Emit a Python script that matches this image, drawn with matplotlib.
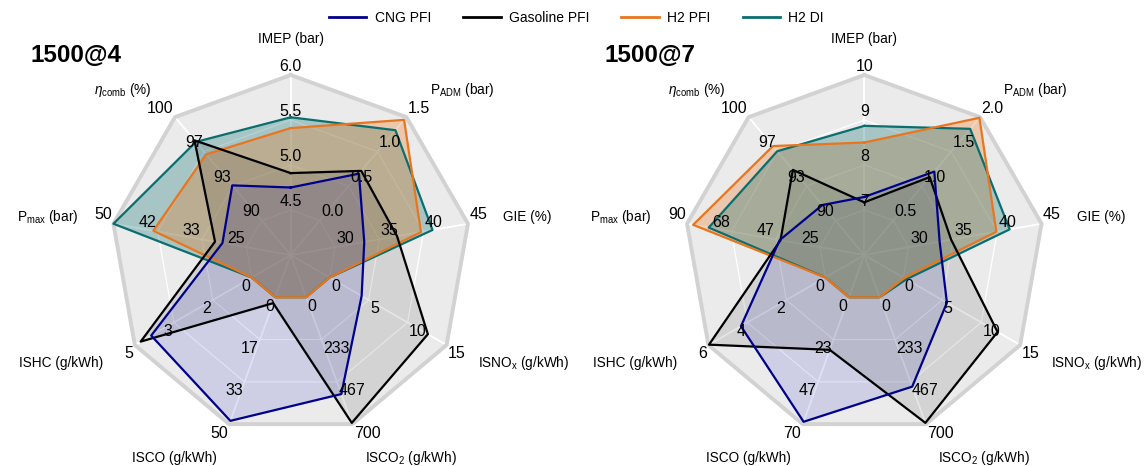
import numpy as np
import matplotlib
matplotlib.use('Agg')
import matplotlib.pyplot as plt
from matplotlib.lines import Line2D

plt.rcParams['font.family'] = ['Liberation Sans', 'DejaVu Sans']
plt.rcParams['mathtext.fontset'] = 'custom'
plt.rcParams['mathtext.rm'] = 'Liberation Sans'
plt.rcParams['mathtext.it'] = 'Liberation Sans:italic'
plt.rcParams['mathtext.default'] = 'regular'

# ---------------- data ----------------
variables = ['IMEP (bar)', 'P$_{ADM}$ (bar)', 'GIE (%)', 'ISNO$_x$ (g/kWh)',
             'ISCO$_2$ (g/kWh)', 'ISCO (g/kWh)', 'ISHC (g/kWh)',
             'P$_{max}$ (bar)', '$\\mathit{\\eta}_{comb}$ (%)']
series_names = ['CNG PFI', 'Gasoline PFI', 'H2 PFI', 'H2 DI']
series_colors = ['#00008B', '#000000', '#E8761E', '#0B6E6E']
fill_colors = ['#0000B4', '#000000', '#E8761E', '#0B6E6E']
fill_alpha = [0.12, 0.10, 0.30, 0.30]

# panel 1: 1500@4
title_1 = '1500@4'
lo_1 = [4.5, 0.0, 30, 0, 0, 0, 0, 25, 90]
hi_1 = [6.0, 1.5, 45, 15, 700, 50, 5, 50, 100]
dec_1 = [1, 1, 0, 0, 0, 0, 0, 0, 0]
cng_1 = [4.75, 0.68, 33.3, 4.1, 534, 48.7, 4.3, 29.5, 93.4]
gas_1 = [4.91, 0.72, 37.0, 12.6, 693, 2.3, 4.75, 30.9, 97.75]
h2pfi_1 = [5.41, 1.46, 39.7, 0.0, 0, 0, 0, 42.5, 96.4]
h2di_1 = [5.53, 1.31, 41.0, 0.0, 0, 0, 0, 50.0, 97.6]
order_1 = [3, 2, 1, 0]

# panel 2: 1500@7
title_2 = '1500@7'
lo_2 = [7, 0.5, 30, 0, 0, 0, 0, 25, 90]
hi_2 = [10, 2.0, 45, 15, 700, 70, 6, 90, 100]
dec_2 = [0, 1, 0, 0, 0, 0, 0, 0, 0]
cng_2 = [7.29, 1.21, 33.5, 5.6, 493, 68.7, 4.33, 44.7, 91.5]
gas_2 = [7.17, 1.13, 34.8, 12.1, 693, 29.0, 5.97, 44.3, 94.9]
h2pfi_2 = [8.5, 1.99, 39.9, 0.1, 0, 0, 0, 87.0, 97.2]
h2di_2 = [8.87, 1.83, 41.4, 0.4, 0, 0, 0, 79.4, 96.7]
order_2 = [0, 1, 2, 3]

W, H = 1146, 466
fig = plt.figure(figsize=(W / 100, H / 100), dpi=100)

n = len(variables)
angles = np.arange(n) * 2 * np.pi / n
th_closed = np.append(angles, angles[0])


def scale(vals, lo, hi):
    v = np.asarray(vals, float)
    lo = np.asarray(lo, float)
    hi = np.asarray(hi, float)
    return 0.25 + 0.75 * (v - lo) / (hi - lo)


def draw_panel(cx, cy, R, title, title_xy, lo, hi, dec, data, order):
    rect = [(cx - R) / W, (H - cy - R) / H, 2 * R / W, 2 * R / H]
    ax = fig.add_axes(rect, polar=True)
    ax.set_theta_zero_location('N')
    ax.set_theta_direction(-1)
    ax.set_ylim(0, 1)
    ax.set_axis_off()
    ones = np.ones(n + 1)
    ax.fill(th_closed, ones, color='#EBEBEB', zorder=0, lw=0)
    for k in (0.25, 0.5, 0.75):
        ax.plot(th_closed, ones * k, color='white', lw=0.9, zorder=1)
    for a in angles:
        ax.plot([a, a], [0, 1], color='white', lw=1.3, zorder=1)
    ax.plot(th_closed, ones, color='#D2D2D2', lw=2.8, zorder=1, clip_on=False)

    for z, i in enumerate(order):
        r = scale(data[i], lo, hi)
        r = np.append(r, r[0])
        ax.fill(th_closed, r, color=fill_colors[i], alpha=fill_alpha[i],
                lw=0, zorder=2 + z)
    for z, i in enumerate([3, 2, 1, 0]):
        r = scale(data[i], lo, hi)
        r = np.append(r, r[0])
        ax.plot(th_closed, r, color=series_colors[i], lw=1.6, zorder=10 + z,
                clip_on=False)

    for j, a in enumerate(angles):
        s, c = np.sin(a), np.cos(a)
        ha = 'center' if abs(s) < 1e-6 else ('left' if s > 0 else 'right')
        va = 'bottom' if c > 0 else 'top'
        dx = 0 if ha == 'center' else (1 if s > 0 else -1)
        dy = 1 if c > 0 else -1
        for k in range(1, 5):
            val = lo[j] + (hi[j] - lo[j]) * (k - 1) / 3
            ax.annotate(f"{val:.{dec[j]}f}", xy=(a, k / 4), xytext=(dx, dy),
                        textcoords='offset points', ha=ha, va=va,
                        fontsize=11.5, color='black', zorder=20,
                        annotation_clip=False)
        ax.text(a, 1.2, variables[j], ha=ha, va='center', fontsize=9.8,
                zorder=20)
    fig.text(title_xy[0] / W, 1 - title_xy[1] / H, title, fontsize=17.5,
             fontweight='bold', ha='left', va='center')


draw_panel(290.7, 255, 180, title_1, (30, 55), lo_1, hi_1, dec_1,
           [cng_1, gas_1, h2pfi_1, h2di_1], order_1)
draw_panel(864.3, 255, 180, title_2, (605, 55), lo_2, hi_2, dec_2,
           [cng_2, gas_2, h2pfi_2, h2di_2], order_2)

handles = [Line2D([0], [0], color=c, lw=2) for c in series_colors]
fig.legend(handles, series_names, loc='center', bbox_to_anchor=(0.503, 1 - 18 / H),
           ncol=4, frameon=False, fontsize=10, columnspacing=2.3,
           handlelength=2.7, handletextpad=0.6)

fig.savefig('out.png', dpi=100)
